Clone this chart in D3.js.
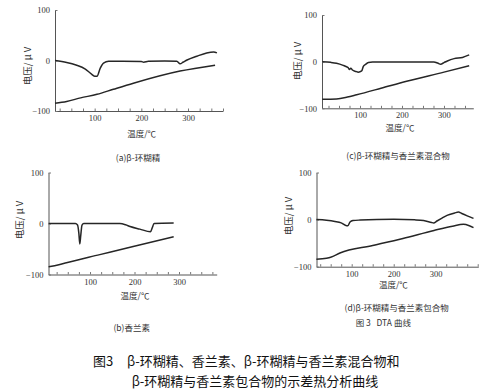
<!DOCTYPE html>
<html><head><meta charset="utf-8">
<script src="https://cdn.jsdelivr.net/npm/d3@7"></script>
<style>body{margin:0;background:#fff}svg{display:block}</style>
</head><body>
<script>
// ---- data: [temperature °C, voltage μV] ----
const aUpper = [[15,0],[40,-4],[60,-9],[80,-17],[92,-26],[100,-31],[105,-31],[112,-15],[119,-5],[130,-1.5],[160,-1.5],[200,-2],[205,-3.3],[215,-1.5],[250,-1],[276,-1.5],[283,-6.5],[290,-3],[298,1],[319,8.5],[340,15],[355,17],[362,15]];
const aLower = [[15,-84.5],[40,-81],[70,-74],[105,-67],[140,-57],[183,-45],[283,-21],[358,-9.3]];
const bUpper = [[7,0],[67,0],[72,-3],[75,-20],[77,-40],[79,-25],[82,-3],[86,0],[167,0],[180,-2.5],[190,-6],[212,-11],[236,-16],[240,-8],[244,0],[288,1]];
const bLower = [[7,-85],[30,-81],[47,-77],[122,-61],[197,-45],[288,-26]];
const cUpper = [[10,0],[30,-1.5],[44,-3.5],[60,-8],[68,-11],[72,-13],[75,-17],[78,-14],[82,-18],[90,-21],[96,-22.5],[104,-20],[108,-10],[113,-6],[120,-2],[130,-1],[200,-1],[276,-0.7],[285,-3],[292,-5.5],[300,-2],[308,1.5],[324,6.5],[344,9],[360,14.4]];
const cLower = [[10,-80.5],[44,-80],[70,-76],[92,-71],[150,-57],[211,-42],[300,-22.5],[360,-9]];
const dUpper = [[16,0],[40,-1.5],[60,-4],[75,-7],[88,-13],[91,-13],[96,-5],[103,-2],[120,-1],[200,0.6],[250,-0.5],[271,-2],[290,-6],[295,-7],[303,-3],[315,3],[327,9],[345,14],[354,16],[362,13],[375,8],[390,2.5]];
const dLower = [[16,-84],[40,-82],[50,-80],[72,-71],[150,-55],[222,-40],[296,-23],[340,-14],[366,-10],[380,-13],[390,-17]];
const xTickLabels = [100, 200, 300];
const yTickValues = [-100, 0, 100];
const xMinorStep = 25;
const yLabel = "电压/ μ V";
const xLabel = "温度/℃";
const captions = ["(a)β-环糊精", "(b)香兰素", "(c)β-环糊精与香兰素混合物", "(d)β-环糊精与香兰素包合物"];
const figNote = "图 3   DTA 曲线";
const mainTitle1a = "图3";
const mainTitle1b = "β-环糊精、香兰素、β-环糊精与香兰素混合物和";
const mainTitle2 = "β-环糊精与香兰素包合物的示差热分析曲线";

const W = 487, H = 391;
const svg = d3.select("body").append("svg").attr("width", W).attr("height", H);
svg.append("rect").attr("width", W).attr("height", H).attr("fill", "#fff");

const serif = "'Liberation Serif','DejaVu Serif',serif";
const cjk = "'Noto Sans CJK SC','Noto Sans',sans-serif";
const ink = "#333";

const panels = [
  {up: aUpper, lo: aLower, cap: captions[0], x0: 55, x1: 223, dom: [15, 375], y100: 10, yM100: 111,
   ylx: 27, yly: 66, xlx: 141.7, xly: 133.3, capx: 138, capy: 156.7},
  {up: bUpper, lo: bLower, cap: captions[1], x0: 48.5, x1: 216.7, dom: [6.7, 384.7], y100: 172.5, yM100: 274.5,
   ylx: 18.5, yly: 220, xlx: 135, xly: 295, capx: 131.7, capy: 327},
  {up: cUpper, lo: cLower, cap: captions[2], x0: 322, x1: 473.3, dom: [9.5, 369.8], y100: 15, yM100: 108.3,
   ylx: 296.7, yly: 61, xlx: 400, xly: 126.7, capx: 398, capy: 155},
  {up: dUpper, lo: dLower, cap: captions[3], x0: 316.5, x1: 478.3, dom: [16.2, 401.4], y100: 172.5, yM100: 266.7,
   ylx: 288, yly: 216, xlx: 393.3, xly: 284, capx: 396.7, capy: 306.7}
];

panels.forEach(p => {
  const x = d3.scaleLinear().domain(p.dom).range([p.x0, p.x1]);
  const y = d3.scaleLinear().domain([-100, 100]).range([p.yM100, p.y100]);
  const g = svg.append("g");

  const ticks = d3.range(Math.ceil(p.dom[0] / xMinorStep) * xMinorStep, p.dom[1] + 0.01, xMinorStep);
  const xa = d3.axisBottom(x).tickValues(ticks).tickSizeInner(-2.5).tickSizeOuter(0).tickPadding(4)
    .tickFormat(d => xTickLabels.includes(d) ? d : "");
  const gx = g.append("g").attr("transform", `translate(0,${y(-100)})`).call(xa);
  gx.select(".domain").attr("stroke", "#555").attr("stroke-width", 1);
  gx.selectAll(".tick line").attr("stroke", "#777");
  gx.selectAll("text").attr("font-family", serif).attr("font-size", 8.5).attr("fill", ink);

  const ya = d3.axisLeft(y).tickValues(yTickValues).tickSizeInner(-2.5).tickSizeOuter(0).tickPadding(5);
  const gy = g.append("g").attr("transform", `translate(${p.x0},0)`).call(ya);
  gy.select(".domain").attr("stroke", "#555").attr("stroke-width", 1);
  gy.selectAll(".tick line").attr("stroke", "#777");
  gy.selectAll("text").attr("font-family", serif).attr("font-size", 8.5).attr("fill", ink);

  const line = d3.line().x(d => x(d[0])).y(d => y(d[1])).curve(d3.curveMonotoneX);
  [p.up, p.lo].forEach(s => {
    g.append("path").datum(s).attr("d", line).attr("fill", "none")
      .attr("stroke", "#262626").attr("stroke-width", 1.5).attr("stroke-linejoin", "round");
  });

  g.append("text").attr("transform", `translate(${p.ylx},${p.yly}) rotate(-90)`)
    .attr("text-anchor", "middle").attr("dominant-baseline", "central").style("white-space", "pre")
    .attr("font-family", cjk).attr("font-size", 9.5).attr("fill", ink).text(yLabel);
  g.append("text").attr("x", p.xlx).attr("y", p.xly).attr("text-anchor", "middle").attr("dominant-baseline", "central")
    .attr("font-family", cjk).attr("font-size", 8.5).attr("fill", ink).text(xLabel);
  g.append("text").attr("x", p.capx).attr("y", p.capy).attr("text-anchor", "middle").attr("dominant-baseline", "central")
    .attr("font-family", cjk).attr("font-size", 8.5).attr("fill", ink).text(p.cap);
});

svg.append("text").attr("x", 383.3).attr("y", 322).attr("text-anchor", "middle").attr("dominant-baseline", "central")
  .attr("font-family", cjk).attr("font-size", 8.5).attr("fill", ink).style("white-space", "pre").text(figNote);

svg.append("text").attr("x", 93).attr("y", 360).attr("dominant-baseline", "central")
  .attr("font-family", cjk).attr("font-size", 13).attr("fill", "#111").text(mainTitle1a);
svg.append("text").attr("x", 127).attr("y", 360).attr("dominant-baseline", "central")
  .attr("font-family", cjk).attr("font-size", 13).attr("fill", "#111").text(mainTitle1b);
svg.append("text").attr("x", 255).attr("y", 380).attr("text-anchor", "middle").attr("dominant-baseline", "central")
  .attr("font-family", cjk).attr("font-size", 13).attr("fill", "#111").text(mainTitle2);
</script>
</body></html>
